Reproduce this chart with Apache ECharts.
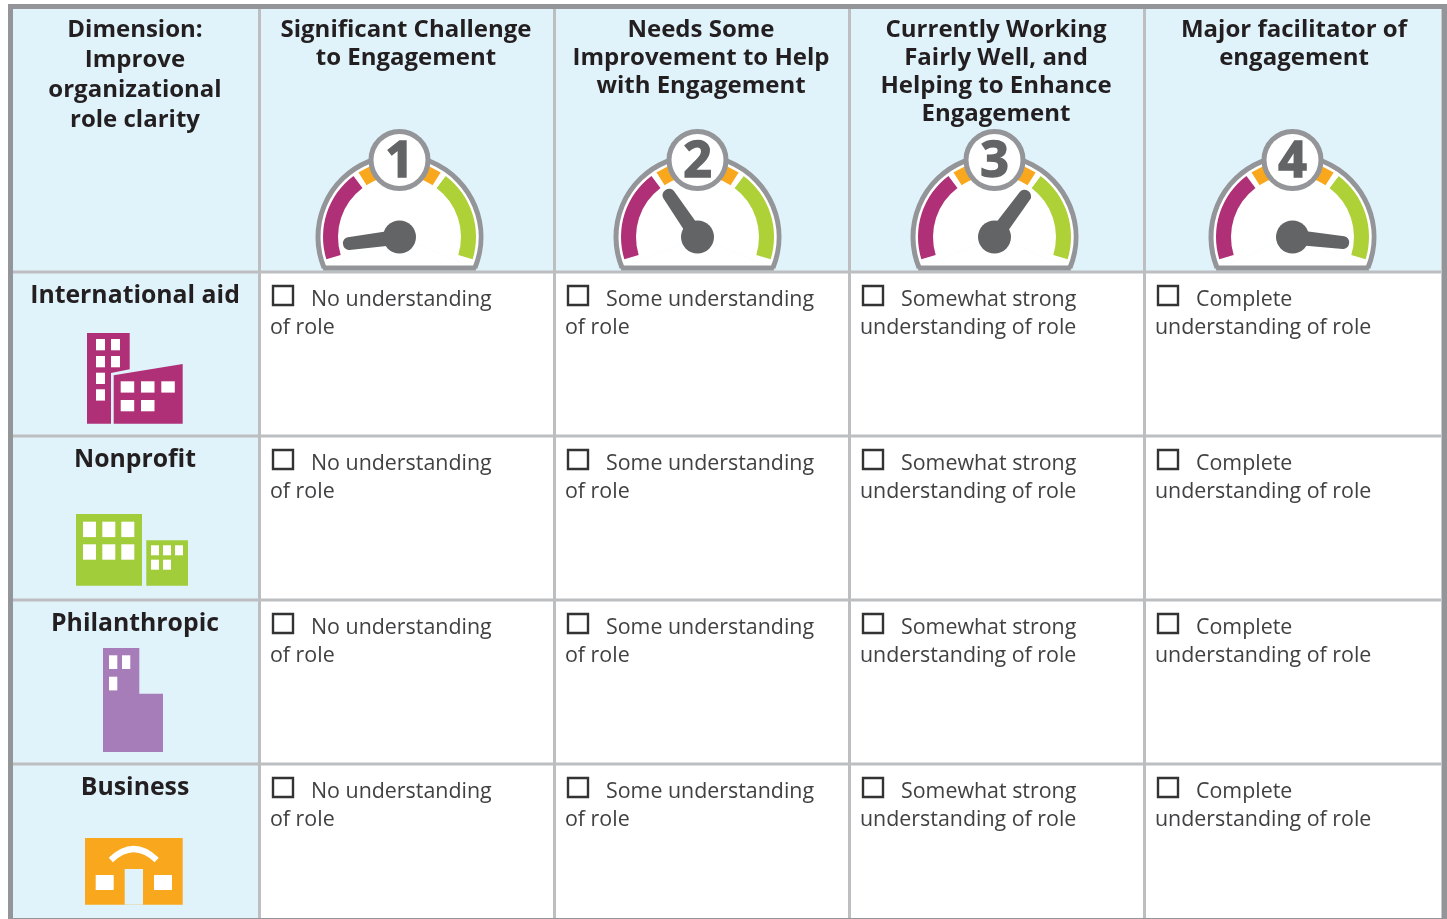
<!DOCTYPE html>
<html>
<head>
<meta charset="utf-8">
<style>
html, body { margin: 0; padding: 0; background: #fff; }
#main { width: 1447px; height: 919px; }
</style>
<script src="https://cdn.jsdelivr.net/npm/echarts@6/dist/echarts.min.js"></script>
</head>
<body>
<div id="main"></div>
<script>
// table content
var cornerHeader = ['Dimension:', 'Improve', 'organizational', 'role clarity'];
var columnHeaders = [
	['Significant Challenge', 'to Engagement'],
	['Needs Some', 'Improvement to Help', 'with Engagement'],
	['Currently Working', 'Fairly Well, and', 'Helping to Enhance', 'Engagement'],
	['Major facilitator of', 'engagement']
];
var rowLabels = ['International aid', 'Nonprofit', 'Philanthropic', 'Business'];
var cellTexts = [
	['No understanding', 'of role'],
	['Some understanding', 'of role'],
	['Somewhat strong', 'understanding of role'],
	['Complete', 'understanding of role']
];
// gauges: the number on the dial and where the needle points (0-100 of the dial)
var gaugeNumbers = ['1', '2', '3', '4'];
var gaugeValues = [4.5, 34, 67, 95];

var fontBold = 'bold 24px "Open Sans"';
var fontRow = 'bold 24.8px "Open Sans"';
var fontBody = '21.4px "Open Sans"';
var colBlue = '#e0f3fb', colLine = '#bcbec0', colFrame = '#939598', colDial = '#636466';

var colX = [260, 555, 850, 1145];        // left edge of each body column
var rowY = [273, 437, 601, 765];         // top edge of each body row
var hubX = [399.5, 697.5, 994.5, 1292.5];
var hubY = 237;

var g = [];

function rect(x, y, w, h, fill) {
	g.push({ type: 'rect', shape: { x: x, y: y, width: w, height: h }, style: { fill: fill } });
}
function windows(xs, ys, w, h, skip) {
	for (var i = 0; i < ys.length; i++) {
		for (var j = 0; j < xs.length; j++) {
			if (skip && skip(i, j)) continue;
			rect(xs[j], ys[i], w, h, '#fff');
		}
	}
}
function poly(points, fill) {
	g.push({ type: 'polygon', shape: { points: points }, style: { fill: fill } });
}
function text(str, x, y, font, fill, align) {
	g.push({
		type: 'text',
		style: { text: str, x: x, y: y, font: font, fill: fill, textAlign: align || 'center', textVerticalAlign: 'middle' }
	});
}

// backgrounds
rect(13, 9, 1428, 262, colBlue);
rect(13, 271, 245, 647, colBlue);

// grid lines
var i, j;
for (i = 0; i < 4; i++) {
	rect(colX[i] - 2, 9, 3, 910, colLine);
	rect(13, rowY[i] - 2.5, 1428, 3, colLine);
}
// outer frame
rect(8, 4, 1439, 5, colFrame);
rect(8, 4, 5, 915, colFrame);
rect(1441.5, 4, 5.5, 915, colFrame);
rect(8, 918, 1439, 1, colFrame);

// header text
for (i = 0; i < cornerHeader.length; i++) {
	text(cornerHeader[i], 135, 30 + i * 30, fontBold, '#231f20');
}
var headerX = [406, 701, 996, 1294];
for (i = 0; i < columnHeaders.length; i++) {
	for (j = 0; j < columnHeaders[i].length; j++) {
		text(columnHeaders[i][j], headerX[i], 30 + j * 28, fontBold, '#231f20');
	}
}

// row labels + check box cells
for (i = 0; i < rowLabels.length; i++) {
	text(rowLabels[i], 135, rowY[i] + 23, fontRow, '#231f20');
	for (j = 0; j < cellTexts.length; j++) {
		g.push({
			type: 'rect',
			shape: { x: colX[j] + 13, y: rowY[i] + 13, width: 20, height: 19 },
			style: { fill: 'none', stroke: '#333', lineWidth: 2.4 }
		});
		text(cellTexts[j][0], colX[j] + 51, rowY[i] + 27, fontBody, '#414042', 'left');
		text(cellTexts[j][1], colX[j] + 10, rowY[i] + 55, fontBody, '#414042', 'left');
	}
}

// dial housings, the gauge series sits on top of them
var cut = Math.atan2(31, 75.4);
for (i = 0; i < hubX.length; i++) {
	g.push({
		type: 'sector',
		shape: { cx: hubX[i], cy: hubY, r: 81.5, startAngle: Math.PI - cut, endAngle: 2 * Math.PI + cut, clockwise: true },
		style: { fill: '#fff' }
	});
	poly([[hubX[i], hubY], [hubX[i] - 75.4, 268], [hubX[i] + 75.4, 268]], '#fff');
	g.push({
		type: 'arc',
		shape: { cx: hubX[i], cy: hubY, r: 81.5, startAngle: Math.PI - cut, endAngle: 2 * Math.PI + cut, clockwise: true },
		style: { fill: null, stroke: colFrame, lineWidth: 5 }
	});
	g.push({
		type: 'line',
		shape: { x1: hubX[i] - 76.4, y1: 268, x2: hubX[i] + 76.4, y2: 268 },
		style: { stroke: colFrame, lineWidth: 5 }
	});
}

// International aid icon
var magenta = '#b03078';
poly([[87, 333], [129.7, 333], [129.7, 369.3], [111, 373], [111, 423.7], [87, 423.7]], magenta);
poly([[113.7, 375.3], [182.7, 364], [182.7, 423.7], [113.7, 423.7]], magenta);
windows([96, 111], [339, 356, 372.7, 389.3], 9, 11.3, function (r, c) { return r > 1 && c == 1; });
windows([120.7, 141, 161.3], [381.3, 400], 13.5, 11.3, function (r, c) { return r == 1 && c == 2; });

// Nonprofit icon
var green = '#a2cd3a';
rect(76, 514, 66, 71.7, green);
rect(146.3, 540.3, 41.7, 45.4, green);
windows([83, 102.3, 121.3], [521.7, 544.3], 13, 15.4);
windows([151, 163, 175], [545.3, 559.7], 8, 10, function (r, c) { return r == 1 && c == 2; });

// Philanthropic icon
var purple = '#a67db8';
poly([[103, 648], [139.3, 648], [139.3, 693.7], [163, 693.7], [163, 752], [103, 752]], purple);
windows([109, 122], [655.3, 676.7], 8.3, 13.7, function (r, c) { return r == 1 && c == 1; });

// Business icon
var orange = '#f9a81e';
rect(85, 838, 97.7, 66.7, orange);
rect(124.7, 869, 18.3, 35.7, colBlue);
windows([95.7, 154], [875], 18, 15);
g.push({
	type: 'bezierCurve',
	shape: { x1: 110.8, y1: 860, x2: 156.7, y2: 860, cpx1: 133.7, cpy1: 838 },
	style: { fill: null, stroke: '#fff', lineWidth: 6 }
});

// one gauge per column
var needle = 'path://M0,6 A6,6 0 0 1 12,6 L13,60 L-1,60 Z';
var series = [];
gaugeValues.forEach(function (v, idx) {
	series.push({
		type: 'gauge',
		center: [hubX[idx], hubY],
		radius: 76.5,
		startAngle: 197,
		endAngle: -17,
		min: 0,
		max: 100,
		silent: true,
		animation: false,
		axisLine: {
			lineStyle: {
				width: 15,
				color: [
					[0.327, magenta],
					[0.348, '#fff'],
					[0.652, orange],
					[0.673, '#fff'],
					[1, '#add136']
				]
			}
		},
		axisTick: { show: false },
		splitLine: { show: false },
		axisLabel: { show: false },
		pointer: { icon: needle, length: 57, width: 15, offsetCenter: [0, 0], itemStyle: { color: colDial } },
		anchor: { show: true, showAbove: true, size: 33, itemStyle: { color: colDial } },
		title: { show: false },
		detail: {
			show: true,
			offsetCenter: [0, -77],
			formatter: function () { return '{n|' + gaugeNumbers[idx] + '}'; },
			width: 52,
			height: 52,
			padding: 0,
			borderRadius: 26,
			borderWidth: 5,
			borderColor: colFrame,
			backgroundColor: '#fff',
			rich: {
				n: {
					padding: [5, 0, 0, 0],
					lineHeight: 52,
					color: colDial,
					fontFamily: 'Open Sans',
					fontWeight: 'bold',
					fontSize: 50,
					textBorderColor: colDial,
					textBorderWidth: 1.5
				}
			}
		},
		data: [{ value: v }]
	});
});

var myChart = echarts.init(document.getElementById('main'), null, { renderer: 'canvas' });
myChart.setOption({
	animation: false,
	backgroundColor: '#fff',
	graphic: { elements: g },
	series: series
});
</script>
</body>
</html>
